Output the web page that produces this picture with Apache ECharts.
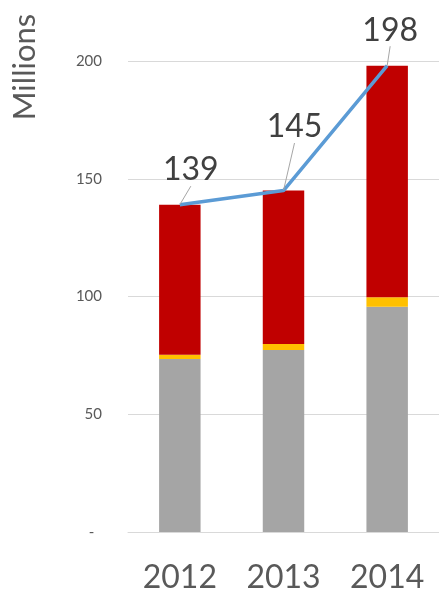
<!DOCTYPE html>
<html>
<head>
<meta charset="utf-8">
<script src="https://cdn.jsdelivr.net/npm/echarts@6/dist/echarts.min.js"></script>
<style>
  html, body { margin: 0; padding: 0; background: #fff; }
  #chart { width: 439px; height: 594px; }
</style>
</head>
<body>
<div id="chart"></div>
<script>
// Yearly totals in millions, split into three stacked components
const years = ['2012', '2013', '2014'];
const baseValues = [73.5, 77.3, 95.7];     // grey segment
const middleValues = [1.8, 2.5, 4.0];      // yellow segment
const topValues = [63.7, 65.2, 98.3];      // red segment
const totals = [139, 145, 198];            // line with value labels

// Value-label nudges (px) so each label sits beside its point with a leader line
const labelShift = [[11, -13], [11, -42], [3, -14]];

const font = 'Lato, "Open Sans", sans-serif';
const chart = echarts.init(document.getElementById('chart'));

chart.setOption({
  animation: false,
  backgroundColor: '#ffffff',
  grid: { left: 128, right: -2, top: 61, bottom: 62 },
  graphic: [{
    type: 'text',
    x: 25,
    y: 67,
    rotation: Math.PI / 2,
    style: {
      text: 'Millions',
      font: '31px ' + font,
      fill: '#595959',
      align: 'center',
      verticalAlign: 'middle'
    }
  }],
  xAxis: {
    type: 'category',
    data: years,
    axisLine: { show: true, lineStyle: { color: '#D9D9D9', width: 1 } },
    axisTick: { show: false },
    axisLabel: { fontSize: 32, fontFamily: font, color: '#595959', margin: 30 }
  },
  yAxis: {
    type: 'value',
    min: 0,
    max: 200,
    interval: 50,
    axisLine: { show: false },
    axisTick: { show: false },
    splitLine: { lineStyle: { color: '#D9D9D9', width: 1 } },
    axisLabel: {
      fontSize: 15,
      fontFamily: font,
      color: '#595959',
      margin: 26,
      formatter: v => (v === 0 ? '-  ' : String(v))
    }
  },
  series: [
    {
      name: 'Base',
      type: 'bar',
      stack: 'total',
      barWidth: '40%',
      data: baseValues,
      itemStyle: { color: '#A5A5A5' }
    },
    {
      name: 'Middle',
      type: 'bar',
      stack: 'total',
      data: middleValues,
      itemStyle: { color: '#FFC000' }
    },
    {
      name: 'Top',
      type: 'bar',
      stack: 'total',
      data: topValues,
      itemStyle: { color: '#C00000' }
    },
    {
      name: 'Total',
      type: 'line',
      data: totals,
      symbol: 'circle',
      symbolSize: 1,
      showSymbol: true,
      itemStyle: { color: 'rgba(91,155,213,0)' },
      z: 5,
      lineStyle: { color: '#5B9BD5', width: 3.5 },
      label: {
        show: true,
        position: 'top',
        distance: 5,
        fontSize: 32,
        fontFamily: font,
        color: '#404040'
      },
      labelLine: { show: true, lineStyle: { color: '#A6A6A6', width: 1 } },
      labelLayout: p => ({ dx: labelShift[p.dataIndex][0], dy: labelShift[p.dataIndex][1] })
    }
  ]
});
</script>
</body>
</html>
